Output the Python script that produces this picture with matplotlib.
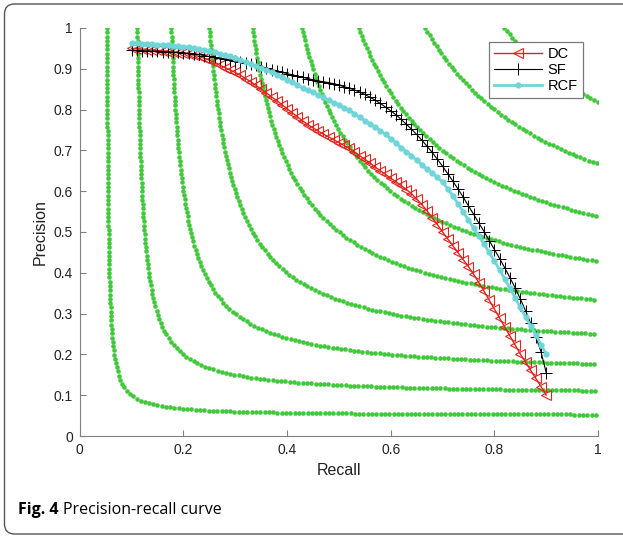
import numpy as np
import matplotlib.pyplot as plt
from matplotlib.patches import FancyBboxPatch

# recall sampled every 0.01 from 0.10 to 0.90
recall = [round(0.10 + 0.01 * i, 2) for i in range(81)]

dc_precision = [
    .950, .949, .948, .947, .946, .945, .944, .942, .941, .939,
    .938, .936, .933, .930, .926, .921, .916, .909, .903, .897,
    .891, .884, .876, .868, .859, .850, .841, .831, .822, .812,
    .802, .792, .782, .772, .763, .755, .747, .740, .733, .726,
    .719, .712, .705, .696, .687, .678, .669, .659, .650, .641,
    .632, .623, .614, .604, .594, .581, .567, .552, .535, .518,
    .500, .483, .466, .449, .432, .415, .396, .376, .355, .333,
    .311, .289, .267, .245, .223, .201, .181, .161, .141, .121,
    .100]

sf_precision = [
    .945, .945, .944, .944, .943, .943, .942, .941, .941, .940,
    .939, .938, .937, .935, .932, .930, .928, .926, .924, .922,
    .920, .917, .914, .911, .908, .905, .902, .898, .895, .891,
    .888, .885, .882, .879, .876, .873, .870, .868, .866, .863,
    .860, .856, .852, .848, .843, .837, .830, .823, .815, .806,
    .797, .787, .776, .764, .752, .739, .725, .710, .695, .678,
    .661, .643, .624, .605, .585, .564, .543, .522, .501, .479,
    .457, .435, .412, .388, .363, .336, .307, .276, .243, .206,
    .155]

rcf_precision = [
    .962, .962, .961, .961, .960, .959, .958, .957, .956, .955,
    .954, .953, .951, .949, .946, .943, .940, .937, .934, .931,
    .927, .922, .917, .912, .907, .902, .897, .891, .885, .879,
    .873, .867, .860, .853, .847, .842, .836, .830, .823, .817,
    .811, .805, .798, .790, .781, .773, .765, .757, .748, .739,
    .729, .718, .707, .697, .687, .676, .665, .654, .644, .634,
    .622, .606, .588, .569, .549, .529, .509, .490, .470, .450,
    .429, .407, .385, .362, .339, .315, .292, .270, .247, .224,
    .200]

f_levels = [0.1, 0.2, 0.3, 0.4, 0.5, 0.6, 0.7, 0.8, 0.9]

fig = plt.figure(figsize=(6.23, 5.37), dpi=100)
ax = fig.add_axes([0.128, 0.188, 0.832, 0.760])

# iso F-measure curves, dots evenly spaced along the curve (~4 px)
for f in f_levels:
    r0 = f / (2 - f)
    s = np.linspace(0, 1, 20000)
    r = r0 + (1 - r0) * s**3
    p = f * r / (2 * r - f)
    d = np.hypot(np.diff(r * 518), np.diff(p * 408))
    L = np.concatenate([[0], np.cumsum(d)])
    t = np.arange(0, L[-1], 4.3)
    ax.plot(np.interp(t, L, r), np.interp(t, L, p), 'o', color='#3fc83a',
            markersize=3.3, markeredgewidth=0)

ax.plot(recall, dc_precision, '-<', color='#e3231d', lw=1.0,
        markersize=7, markerfacecolor='none', markeredgewidth=0.8, label='DC')
ax.plot(recall, sf_precision, '-+', color='black', lw=0.8,
        markersize=8, markeredgewidth=0.7, label='SF')
ax.plot(recall, rcf_precision, '.-', color='#6fd5d8', lw=2,
        markersize=7, label='RCF')

ax.set_xlim(0, 1)
ax.set_ylim(0, 1)
ax.set_xticks([0, 0.2, 0.4, 0.6, 0.8, 1])
ax.set_xticklabels(['0', '0.2', '0.4', '0.6', '0.8', '1'])
ax.set_yticks(np.arange(0, 1.01, 0.1))
ax.set_yticklabels(['0', '0.1', '0.2', '0.3', '0.4', '0.5', '0.6', '0.7',
                    '0.8', '0.9', '1'])
for side in ['top', 'right']:
    ax.spines[side].set_visible(False)
for side in ['left', 'bottom']:
    ax.spines[side].set_color('#808080')
ax.tick_params(direction='in', length=4, color='#808080', labelsize=10,
               labelcolor='#222222', pad=5)
for lbl in ax.get_xticklabels() + ax.get_yticklabels():
    lbl.set_fontfamily('Liberation Sans')

ax.set_xlabel('Recall', fontsize=11.5, family='Liberation Sans', color='#222222')
ax.set_ylabel('Precision', fontsize=11.5, family='Liberation Sans', color='#222222')

leg = ax.legend(loc='upper right', bbox_to_anchor=(0.971, 0.966), fancybox=False,
                edgecolor='#7a7a7a', framealpha=1, handlelength=3.3,
                prop={'family': 'Liberation Sans', 'size': 10.5},
                labelspacing=0.15, borderpad=0.35, handletextpad=0.4,
                borderaxespad=0)
leg.get_frame().set_linewidth(0.9)

# caption: bold "Fig. 4" followed by regular text
cap1 = fig.text(0.029, 0.043, 'Fig. 4', fontsize=11.5, fontweight='bold', family='Open Sans')
fig.canvas.draw()
bb = cap1.get_window_extent()
fig.text((bb.x1 + 4) / fig.bbox.width, 0.043, 'Precision-recall curve',
         fontsize=11.5, family='Open Sans')

frame = FancyBboxPatch((0.045, 0.03), 6.5, 5.3, boxstyle='round,pad=0,rounding_size=0.1',
                       transform=fig.dpi_scale_trans, facecolor='none',
                       edgecolor='#555555', linewidth=1.0)
fig.patches.append(frame)

plt.savefig('out.png', dpi=100)
